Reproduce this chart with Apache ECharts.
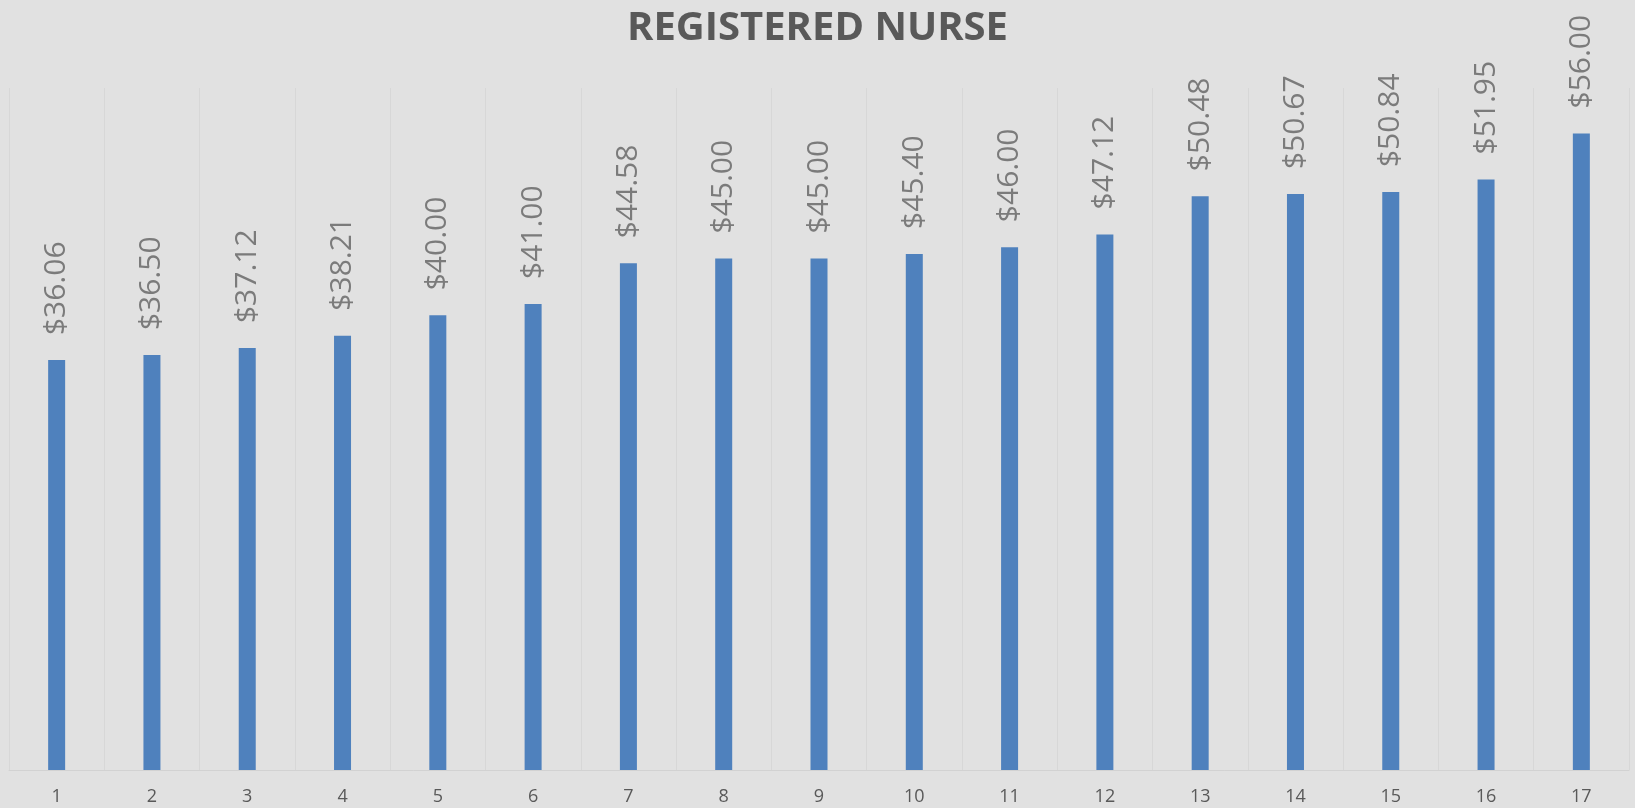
<!DOCTYPE html>
<html>
<head>
<meta charset="utf-8">
<script src="https://cdn.jsdelivr.net/npm/echarts@6/dist/echarts.min.js"></script>
<style>
	html, body { margin: 0; padding: 0; background: #e1e1e1; }
	#chart { width: 1635px; height: 808px; }
</style>
</head>
<body>
<div id="chart"></div>
<script>
const title = 'REGISTERED NURSE';
const categories = ['1', '2', '3', '4', '5', '6', '7', '8', '9', '10', '11', '12', '13', '14', '15', '16', '17'];
const wages = [36.06, 36.50, 37.12, 38.21, 40.00, 41.00, 44.58, 45.00, 45.00, 45.40, 46.00, 47.12, 50.48, 50.67, 50.84, 51.95, 56.00];

function renderChart(chartId) {
	const chart = echarts.init(document.getElementById(chartId));
	chart.setOption({
		backgroundColor: '#e1e1e1',
		animation: false,
		title: {
			text: title,
			left: 'center',
			top: 4,
			textStyle: { fontFamily: 'Open Sans', fontWeight: 'bold', fontSize: 40, color: '#595959' }
		},
		grid: { left: 9, right: 6, top: 88, bottom: 38 },
		xAxis: {
			type: 'category',
			data: categories,
			axisLine: { lineStyle: { color: '#d2d2d2', width: 1 } },
			axisTick: { show: false },
			axisLabel: { color: '#595959', fontSize: 18, fontFamily: 'Open Sans', margin: 18 },
			splitLine: { show: true, lineStyle: { color: '#d7d7d7', width: 1 } }
		},
		yAxis: {
			type: 'value',
			min: 0,
			max: 60,
			show: false
		},
		series: [{
			type: 'bar',
			data: wages,
			barWidth: 17,
			itemStyle: { color: '#4f81bd' },
			label: {
				show: true,
				position: 'top',
				rotate: 90,
				align: 'left',
				verticalAlign: 'middle',
				distance: 25,
				fontFamily: 'Open Sans',
				fontSize: 30,
				color: '#7b7b7b',
				formatter: p => '$' + p.value.toFixed(2)
			}
		}]
	});
}

renderChart('chart');
</script>
</body>
</html>
